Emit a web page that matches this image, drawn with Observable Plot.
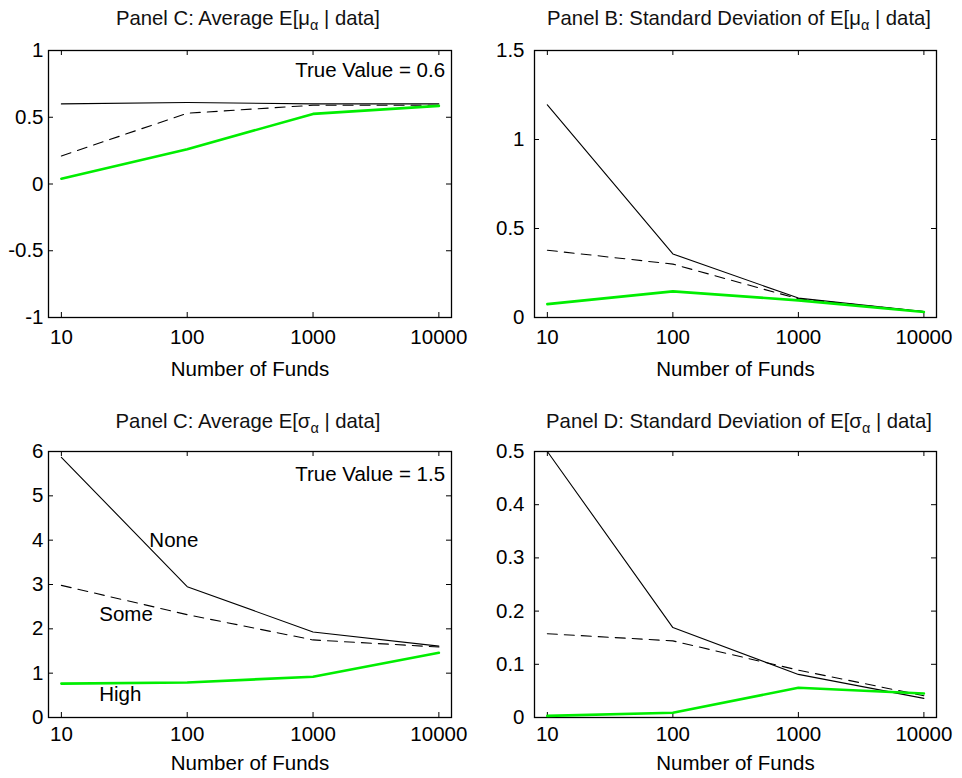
<!DOCTYPE html>
<html><head><meta charset="utf-8">
<script src="https://cdn.jsdelivr.net/npm/d3@7"></script>
<script src="https://cdn.jsdelivr.net/npm/@observablehq/plot@0.6"></script>
<style>
body{margin:0;background:#fff;font-family:"Liberation Sans",Arial,Helvetica,sans-serif;}
#root{position:relative;width:962px;height:778px;overflow:hidden;}
.panel{position:absolute;width:481px;height:389px;}
.title{position:absolute;font-size:20.3px;white-space:nowrap;transform:translate(-50%,-50%);color:#111;}
.title sub{font-size:14.5px;vertical-align:-5px;line-height:0;}
</style></head><body><div id="root"></div>
<script>
// ---- data ----
const funds = [10, 100, 1000, 10000];
const seriesNames = ["None", "Some", "High"];
// Panel A: Average E[mu_alpha | data]
const muAvgNone = [0.60, 0.61, 0.60, 0.60];
const muAvgSome = [0.21, 0.53, 0.59, 0.59];
const muAvgHigh = [0.04, 0.26, 0.525, 0.585];
// Panel B: Std dev of E[mu_alpha | data]
const muSdNone = [1.195, 0.357, 0.109, 0.034];
const muSdSome = [0.378, 0.30, 0.105, 0.033];
const muSdHigh = [0.075, 0.147, 0.096, 0.031];
// Panel C: Average E[sigma_alpha | data]
const sigAvgNone = [5.87, 2.95, 1.93, 1.61];
const sigAvgSome = [2.98, 2.32, 1.75, 1.59];
const sigAvgHigh = [0.765, 0.79, 0.92, 1.46];
// Panel D: Std dev of E[sigma_alpha | data]
const sigSdNone = [0.50, 0.169, 0.081, 0.036];
const sigSdSome = [0.1575, 0.144, 0.089, 0.041];
const sigSdHigh = [0.003, 0.009, 0.056, 0.045];
// tick labels
const yTicksA = [-1, -0.5, 0, 0.5, 1];
const yTicksB = [0, 0.5, 1, 1.5];
const yTicksC = [0, 1, 2, 3, 4, 5, 6];
const yTicksD = [0, 0.1, 0.2, 0.3, 0.4, 0.5];
const titles = [
  ["Panel C: Average E[μ", "α", " | data]"],
  ["Panel B: Standard Deviation of E[μ", "α", " | data]"],
  ["Panel C: Average E[σ", "α", " | data]"],
  ["Panel D: Standard Deviation of E[σ", "α", " | data]"]
];
const xLabel = "Number of Funds";
const trueValueA = "True Value = 0.6";
const trueValueC = "True Value = 1.5";

// ---- drawing ----
const root = document.getElementById("root");
const FONT = "'Liberation Sans', Arial, Helvetica, sans-serif";
const W = 481, H = 389, TICK = 5, FS = 20.5;

function makePanel(cfg) {
  const div = document.createElement("div");
  div.className = "panel";
  div.style.left = cfg.left + "px";
  div.style.top = cfg.top + "px";
  const fw = W - cfg.mL - cfg.mR;   // frame width
  const fh = H - cfg.mT - cfg.mB;   // frame height
  const styles = [
    {stroke: "black", strokeWidth: 1.1},
    {stroke: "black", strokeWidth: 1.1, strokeDasharray: "10,7"},
    {stroke: "#00ee00", strokeWidth: 2.6}
  ];
  const marks = [
    // inward ticks on all four sides
    Plot.tickX(funds, {x: d => d, insetTop: fh - TICK, stroke: "black"}),
    Plot.tickX(funds, {x: d => d, insetBottom: fh - TICK, stroke: "black"}),
    Plot.tickY(cfg.yTicks, {y: d => d, insetRight: fw - TICK, stroke: "black"}),
    Plot.tickY(cfg.yTicks, {y: d => d, insetLeft: fw - TICK, stroke: "black"}),
    Plot.frame({stroke: "black", strokeWidth: 1.3}),
    Plot.axisX(funds, {anchor: "bottom", tickSize: 0, tickPadding: cfg.xPad, tickFormat: d3.format("d"),
      label: xLabel, labelAnchor: "center", labelOffset: cfg.labelOffset, labelArrow: "none", fontSize: FS}),
    Plot.axisY(cfg.yTicks, {anchor: "left", tickSize: 0, tickPadding: cfg.yPad, tickFormat: d => String(d), label: null, fontSize: FS})
  ];
  cfg.series.forEach((vals, k) => {
    marks.push(Plot.lineY(vals, {x: funds, ...styles[k]}));
  });
  (cfg.notes || []).forEach(n => {
    marks.push(Plot.text([n.text], {x: () => n.x, y: () => n.y, text: d => d, textAnchor: n.anchor, fontSize: FS, fill: "black"}));
  });
  const svg = Plot.plot({
    width: W, height: H,
    marginLeft: cfg.mL, marginRight: cfg.mR, marginTop: cfg.mT, marginBottom: cfg.mB,
    style: {fontFamily: FONT, fontSize: FS + "px", color: "black", background: "transparent", overflow: "visible"},
    x: {type: "log", domain: [7.9, 12600]},
    y: {domain: cfg.yDomain},
    marks
  });
  div.appendChild(svg);
  const t = document.createElement("div");
  t.className = "title";
  t.style.left = cfg.tx + "px";
  t.style.top = cfg.ty + "px";
  const [a, s, b] = cfg.title;
  t.append(a);
  const sub = document.createElement("sub");
  sub.textContent = s;
  t.append(sub);
  t.append(b);
  div.appendChild(t);
  root.appendChild(div);
}

makePanel({left: 0, top: 0, mL: 48, mR: 30, mT: 50, mB: 72, xPad: 12, yPad: 5, labelOffset: 58,
  yDomain: [-1, 1], yTicks: yTicksA, series: [muAvgNone, muAvgSome, muAvgHigh], title: titles[0], tx: 248, ty: 18,
  notes: [{text: trueValueA, x: 11200, y: 0.85, anchor: "end"}]});
makePanel({left: 481, top: 0, mL: 53, mR: 26, mT: 50, mB: 72, xPad: 12, yPad: 10, labelOffset: 58,
  yDomain: [0, 1.5], yTicks: yTicksB, series: [muSdNone, muSdSome, muSdHigh], title: titles[1], tx: 258, ty: 18});
makePanel({left: 0, top: 389, mL: 48, mR: 30, mT: 62, mB: 61, xPad: 9, yPad: 5, labelOffset: 52,
  yDomain: [0, 6], yTicks: yTicksC, series: [sigAvgNone, sigAvgSome, sigAvgHigh], title: titles[2], tx: 248, ty: 32,
  notes: [{text: trueValueC, x: 11200, y: 5.48, anchor: "end"},
          {text: seriesNames[0], x: 50, y: 4.0, anchor: "start"},
          {text: seriesNames[1], x: 20, y: 2.32, anchor: "start"},
          {text: seriesNames[2], x: 20, y: 0.52, anchor: "start"}]});
makePanel({left: 481, top: 389, mL: 53, mR: 26, mT: 62, mB: 61, xPad: 9, yPad: 10, labelOffset: 52,
  yDomain: [0, 0.5], yTicks: yTicksD, series: [sigSdNone, sigSdSome, sigSdHigh], title: titles[3], tx: 258, ty: 32});
</script>
</body></html>
